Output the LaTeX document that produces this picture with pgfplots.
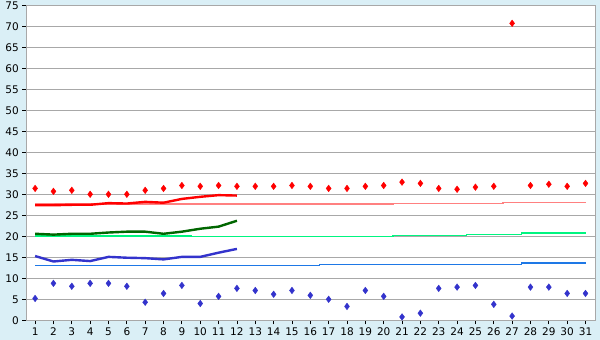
\documentclass[border=0pt]{standalone}
\usepackage{pgfplots}
\pgfplotsset{compat=1.18}
\usepackage{fontspec}
\setmainfont{DejaVu Sans}
\definecolor{bgblue}{RGB}{218,239,246}
\definecolor{gridgray}{RGB}{168,168,168}
\definecolor{ptblue}{RGB}{51,51,204}
\definecolor{pinkline}{RGB}{255,128,128}
\definecolor{dkgreen}{RGB}{0,102,0}
\definecolor{ltgreen}{RGB}{0,245,128}
\definecolor{thinblue}{RGB}{30,120,230}
\begin{document}
\begin{tikzpicture}
\fill[bgblue] (-26.3bp,-19.7bp) rectangle (573.7bp,320.3bp);
\begin{axis}[
  at={(0,0)}, anchor=south west,
  scale only axis, width=569.3bp, height=315bp,
  xmin=0.52, xmax=31.55, ymin=0, ymax=75,
  xtick={1,...,31}, ytick={0,5,...,75},
  axis background/.style={fill=white},
  axis line style={gridgray, line width=1bp},
  ymajorgrids, grid style={gridgray, line width=1bp},
  tick align=outside, major tick length=4bp,
  tick style={black, line width=0.8bp},
  xtick pos=bottom, ytick pos=left,
  ticklabel style={font=\fontsize{10.5bp}{12bp}\selectfont},
  /pgf/number format/assume math mode=true,
  clip=false,
]
% thin lines
\addplot[pinkline, line width=1.5bp] coordinates {(1,27.7)(20.5,27.7)(20.5,27.85)(26.5,27.85)(26.5,28.1)(31,28.1)};
\addplot[ltgreen, line width=1.5bp] coordinates {(1,20.05)(9.5,20.05)(9.5,20.0)(20.5,20.0)(20.5,20.2)(24.5,20.2)(24.5,20.45)(27.5,20.45)(27.5,20.75)(31,20.75)};
\addplot[thinblue, line width=1.5bp] coordinates {(1,13.1)(16.5,13.1)(16.5,13.3)(27.5,13.3)(27.5,13.6)(31,13.6)};
% thick lines
\addplot[red, line width=2.4bp] coordinates {(1,27.4)(2,27.4)(3,27.5)(4,27.5)(5,27.9)(6,27.8)(7,28.2)(8,28.0)(9,28.9)(10,29.4)(11,29.8)(12,29.7)};
\addplot[dkgreen, line width=2.4bp] coordinates {(1,20.6)(2,20.4)(3,20.6)(4,20.6)(5,20.9)(6,21.1)(7,21.1)(8,20.6)(9,21.1)(10,21.8)(11,22.3)(12,23.7)};
\addplot[ptblue, line width=2.4bp] coordinates {(1,15.3)(2,14.0)(3,14.4)(4,14.1)(5,15.1)(6,14.9)(7,14.8)(8,14.5)(9,15.1)(10,15.1)(11,16.1)(12,17.0)};
% points
\addplot[only marks, mark=diamond*, mark size=3.3bp, red] coordinates {
(1,31.4)(2,30.7)(3,30.95)(4,30.0)(5,30.0)(6,30.0)(7,30.95)(8,31.4)(9,32.1)(10,31.9)
(11,32.1)(12,31.9)(13,31.9)(14,31.9)(15,32.1)(16,31.9)(17,31.4)(18,31.4)(19,31.9)(20,32.1)
(21,32.9)(22,32.6)(23,31.4)(24,31.2)(25,31.7)(26,31.9)(27,70.7)(28,32.1)(29,32.4)(30,31.9)(31,32.6)};
\addplot[only marks, mark=diamond*, mark size=3.3bp, ptblue] coordinates {
(1,5.2)(2,8.8)(3,8.1)(4,8.8)(5,8.8)(6,8.1)(7,4.3)(8,6.4)(9,8.3)(10,4.0)
(11,5.7)(12,7.6)(13,7.1)(14,6.2)(15,7.1)(16,5.95)(17,5.0)(18,3.3)(19,7.1)(20,5.7)
(21,0.8)(22,1.7)(23,7.6)(24,7.9)(25,8.3)(26,3.8)(27,1.0)(28,7.9)(29,7.9)(30,6.4)(31,6.4)};
\end{axis}
\pgfresetboundingbox
\useasboundingbox (-26.3bp,-19.7bp) rectangle (573.7bp,320.3bp);
\end{tikzpicture}
\end{document}
